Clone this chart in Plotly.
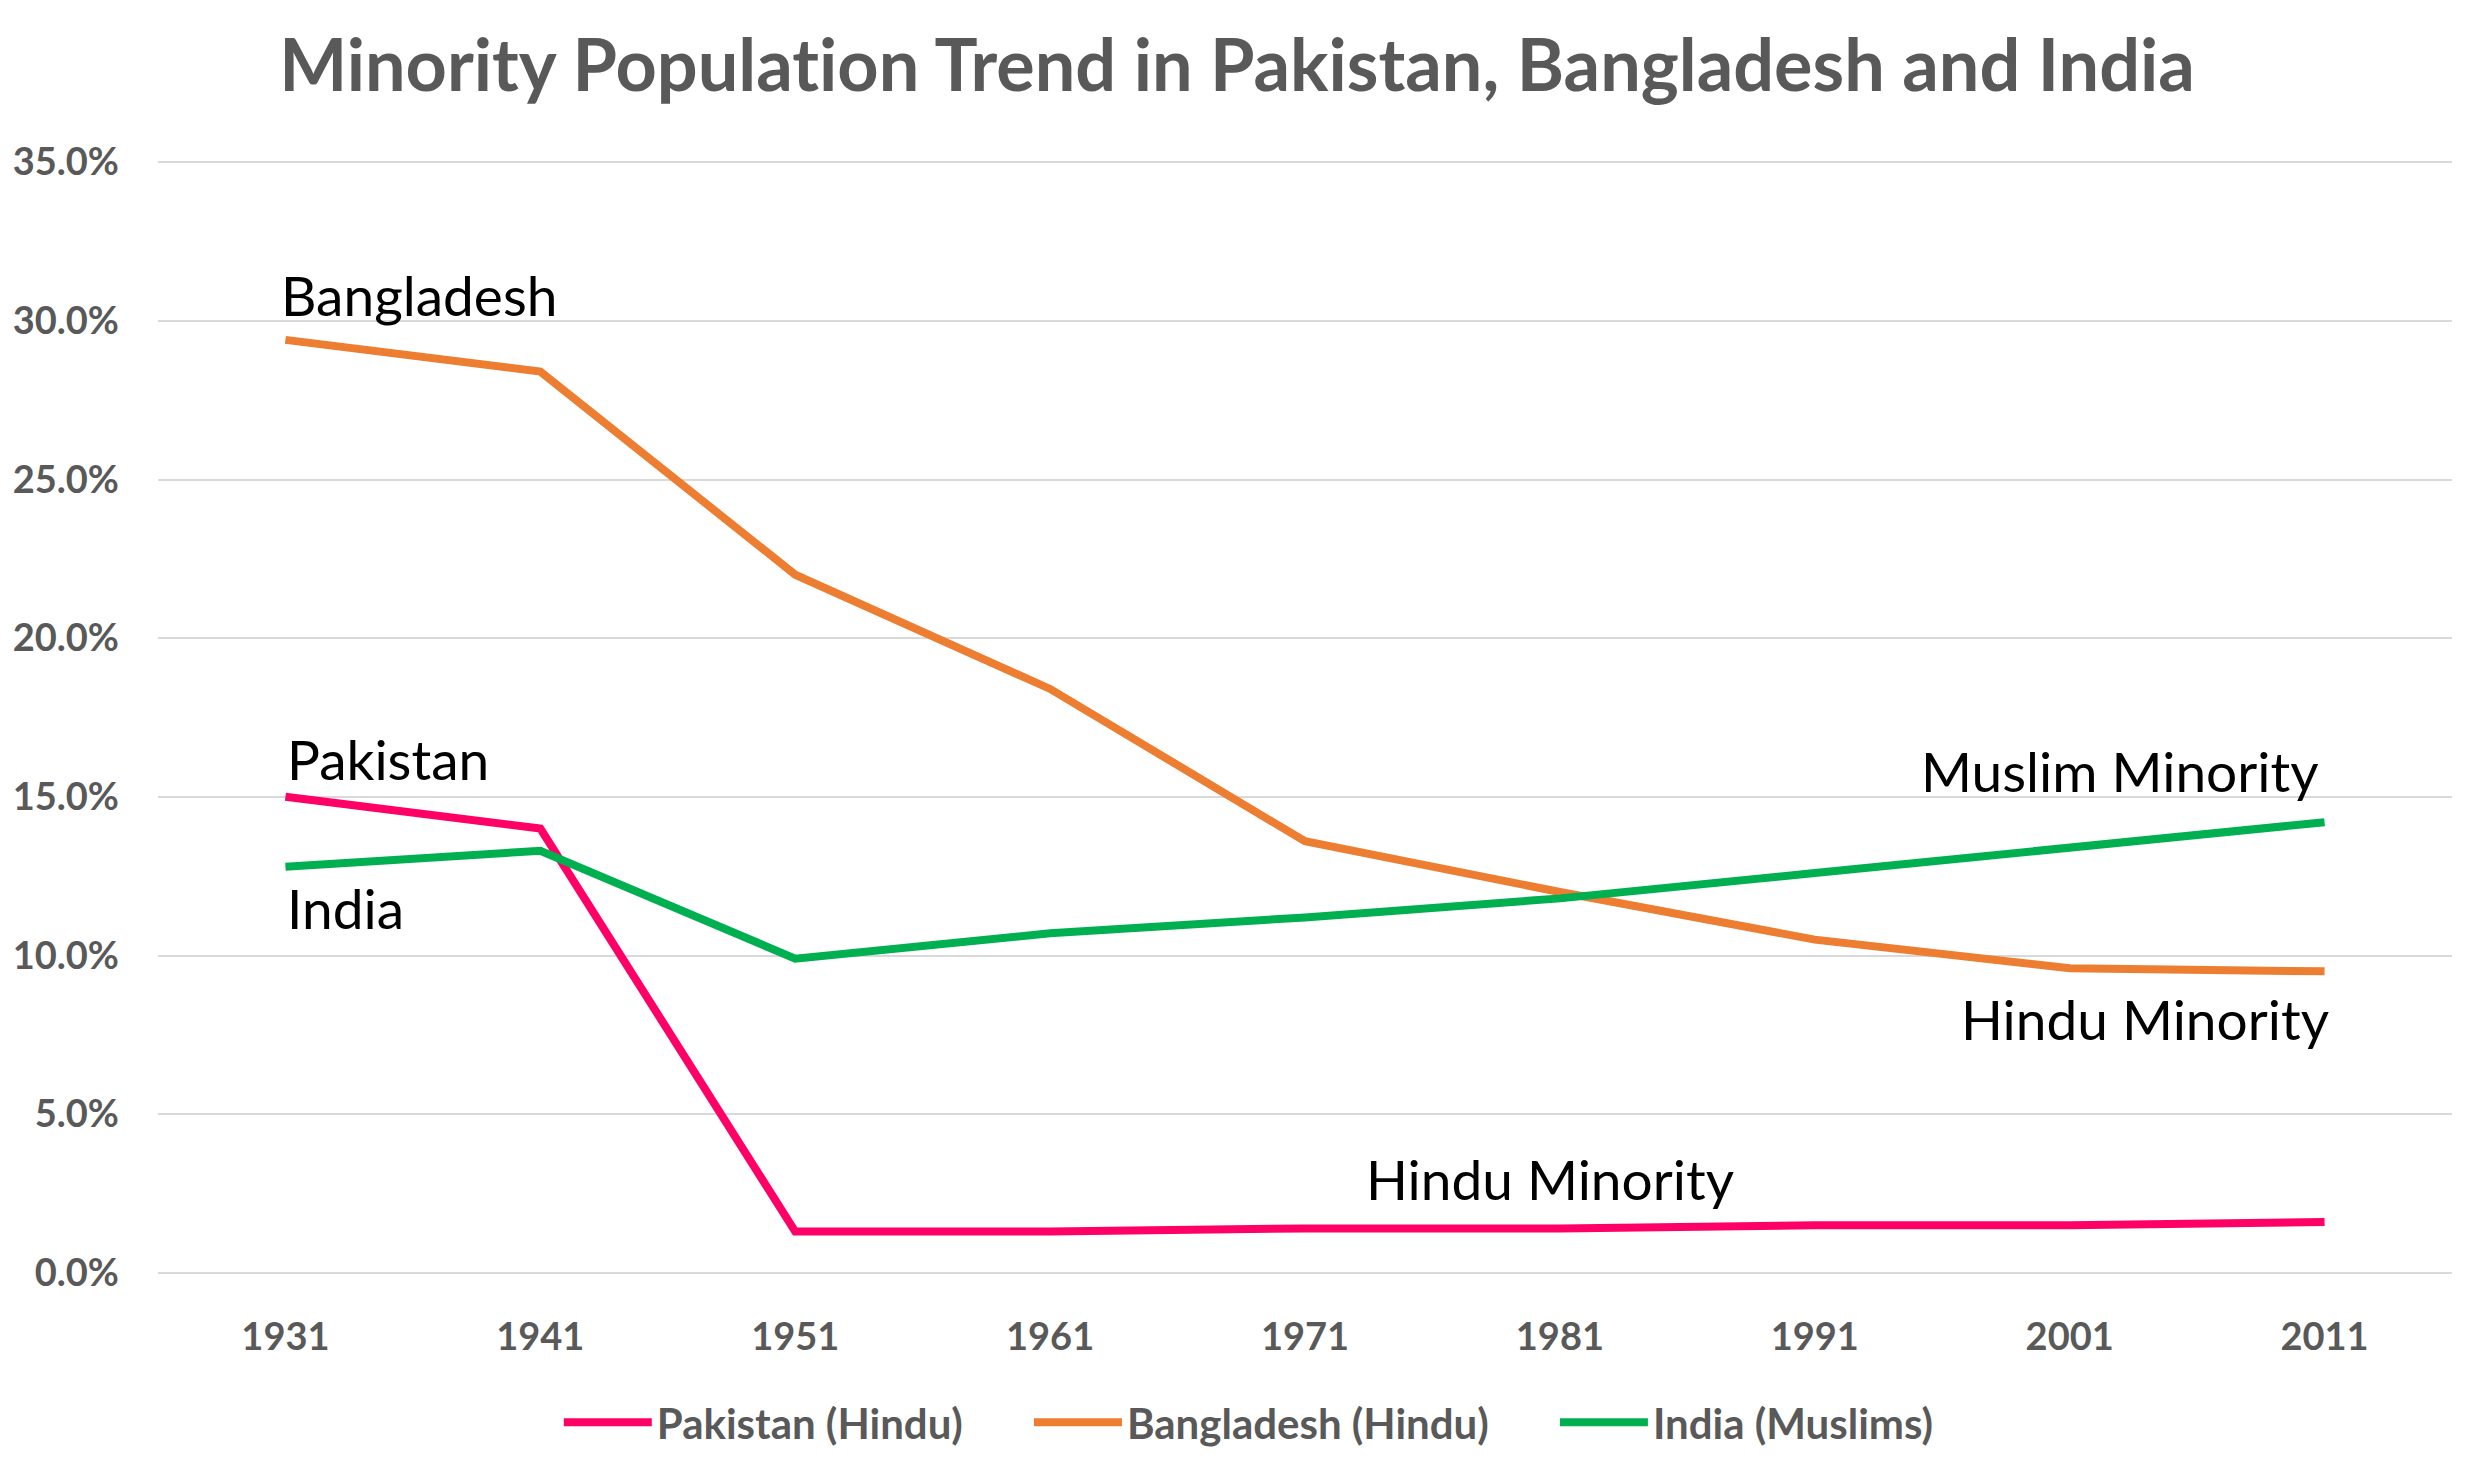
import plotly.graph_objects as go

years = ["1931", "1941", "1951", "1961", "1971", "1981", "1991", "2001", "2011"]
pakistan_hindu = [15.0, 14.0, 1.3, 1.3, 1.4, 1.4, 1.5, 1.5, 1.6]
bangladesh_hindu = [29.4, 28.4, 22.0, 18.4, 13.6, 12.0, 10.5, 9.6, 9.5]
india_muslims = [12.8, 13.3, 9.9, 10.7, 11.2, 11.8, 12.6, 13.4, 14.2]

series_names = ["Pakistan (Hindu)", "Bangladesh (Hindu)", "India (Muslims)"]
series_colors = ["#FF0066", "#ED7D31", "#00B050"]
series_values = [pakistan_hindu, bangladesh_hindu, india_muslims]

FONT = "Lato"
GRAY = "#595959"
PAD = "\u00a0" * 6

fig = go.Figure()
for i, (name, color, vals) in enumerate(zip(series_names, series_colors, series_values)):
    fig.add_trace(go.Scatter(
        x=years, y=vals, name=name + (PAD if i < len(series_names) - 1 else ""),
        mode="lines", line=dict(color=color, width=8),
    ))

# annotation positions use category index on the x axis
annotations = [
    dict(text="Bangladesh", x=years.index("1931"), y=30.8, xanchor="left", xshift=-6),
    dict(text="Pakistan", x=years.index("1931"), y=16.2, xanchor="left", xshift=0),
    dict(text="India", x=years.index("1931"), y=11.5, xanchor="left", xshift=0),
    dict(text="Hindu Minority", x=years.index("1981"), y=2.95, xanchor="center", xshift=-10),
    dict(text="Muslim Minority", x=years.index("2011"), y=15.8, xanchor="right", xshift=-4),
    dict(text="Hindu Minority", x=years.index("2011"), y=8.0, xanchor="right", xshift=6),
]
for a in annotations:
    fig.add_annotation(xref="x", yref="y", showarrow=False, yanchor="middle",
                       font=dict(family=FONT, size=55, color="#000000"), **a)

W, H, OFF = 2474, 1479, 8
fig.update_layout(
    width=W - 2 * OFF, height=H - 2 * OFF,
    paper_bgcolor="white", plot_bgcolor="white",
    margin=dict(l=158 - OFF, r=22 - OFF, t=159 - OFF, b=203 - OFF, autoexpand=False),
    title=dict(text="<b>Minority Population Trend in Pakistan, Bangladesh and India</b>".replace("tion", "t\u200cion"),
               x=0.5, xanchor="center", y=1 - (66 - OFF) / (H - 2 * OFF), yanchor="middle",
               font=dict(family=FONT, size=72, color=GRAY)),
    showlegend=True,
    legend=dict(orientation="h", x=0.4755, xanchor="center", y=-0.131, yanchor="middle",
                font=dict(family=FONT, size=42, color=GRAY, weight="bold"),
                itemwidth=88, tracegroupgap=0),
    hovermode=False,
)
fig.update_xaxes(type="category", range=[-0.5, 8.5], showgrid=False, showline=False,
                 zeroline=False, ticks="", ticklabelstandoff=35, automargin=False,
                 tickfont=dict(family=FONT, size=38, color=GRAY, weight="bold"))
fig.update_yaxes(range=[-0.1, 35.1], dtick=5, tick0=0, ticksuffix="%", tickformat=".1f",
                 showgrid=True, gridcolor="#D9D9D9", gridwidth=2, zeroline=False,
                 showline=False, ticks="", ticklabelstandoff=38, automargin=False,
                 tickfont=dict(family=FONT, size=38, color=GRAY, weight="bold"))

fig.write_html("out.html")
